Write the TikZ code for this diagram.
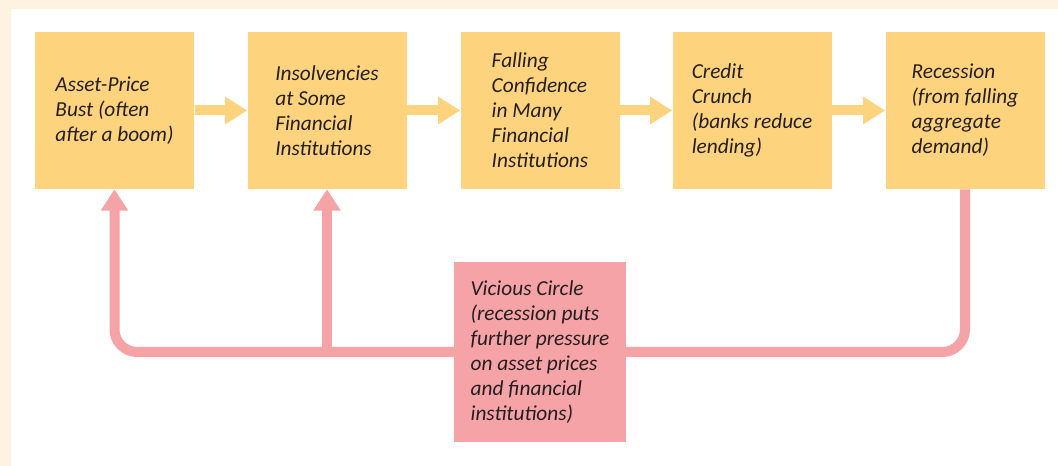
\documentclass[tikz,border=0pt]{standalone}
\usepackage{fontspec}
\setmainfont{Carlito}
\usetikzlibrary{arrows.meta}
\definecolor{bgcream}{HTML}{FEF2E0}
\definecolor{boxy}{HTML}{FED37D}
\definecolor{boxp}{HTML}{F5A3A6}
\definecolor{txt}{HTML}{231F20}
\begin{document}
\begin{tikzpicture}[x=0.75pt,y=-0.75pt,
  lbl/.style={font=\itshape\fontsize{16}{18.75}\selectfont, text=txt, align=left, inner sep=0pt},
  stepbox/.style={lbl, fill=boxy, minimum width=119.25pt, minimum height=117.75pt},
  pinkbox/.style={lbl, fill=boxp, minimum width=129pt, minimum height=135pt},
  yarrow/.style={draw=boxy, line width=7.5pt, -{Triangle[width=19.5pt,length=16.5pt]}, shorten <=0.5pt},
  parrow/.style={draw=boxp, line width=7.5pt, -{Triangle[width=19.5pt,length=16pt]}},
  pline/.style={draw=boxp, line width=7.5pt, rounded corners=17pt}]
\useasboundingbox (0,0) rectangle (1058,466);
\fill[bgcream] (0,0) rectangle (1058,466);
\fill[white] (11,9) rectangle (1058,466);

\node[stepbox] (b1) at (114.5,110.5) {Asset-Price\\Bust (often\\after a boom)};
\node[stepbox] (b2) at (327,110.5) {Insolvencies\\at Some\\Financial\\Institutions};
\node[stepbox] (b3) at (540,110.5) {Falling\\Confidence\\in Many\\Financial\\Institutions};
\node[stepbox] (b4) at (752,110.5) {Credit\\Crunch\\(banks reduce\\lending)};
\node[stepbox] (b5) at (965,110.5) {Recession\\(from falling\\aggregate\\demand)};

\draw[yarrow] (b1.east) -- (b2.west);
\draw[yarrow] (b2.east) -- (b3.west);
\draw[yarrow] (b3.east) -- (b4.west);
\draw[yarrow] (b4.east) -- (b5.west);

\coordinate (j) at (327,352);
\draw[pline] (b5.south) |- (j);
\draw[pline, -{Triangle[width=19.5pt,length=16pt]}] (j) -| (b1.south);
\draw[parrow] (j) -- (b2.south);

\node[pinkbox] (vc) at (540,352) {Vicious Circle\\(recession puts\\further pressure\\on asset prices\\and financial\\institutions)};
\end{tikzpicture}
\end{document}
